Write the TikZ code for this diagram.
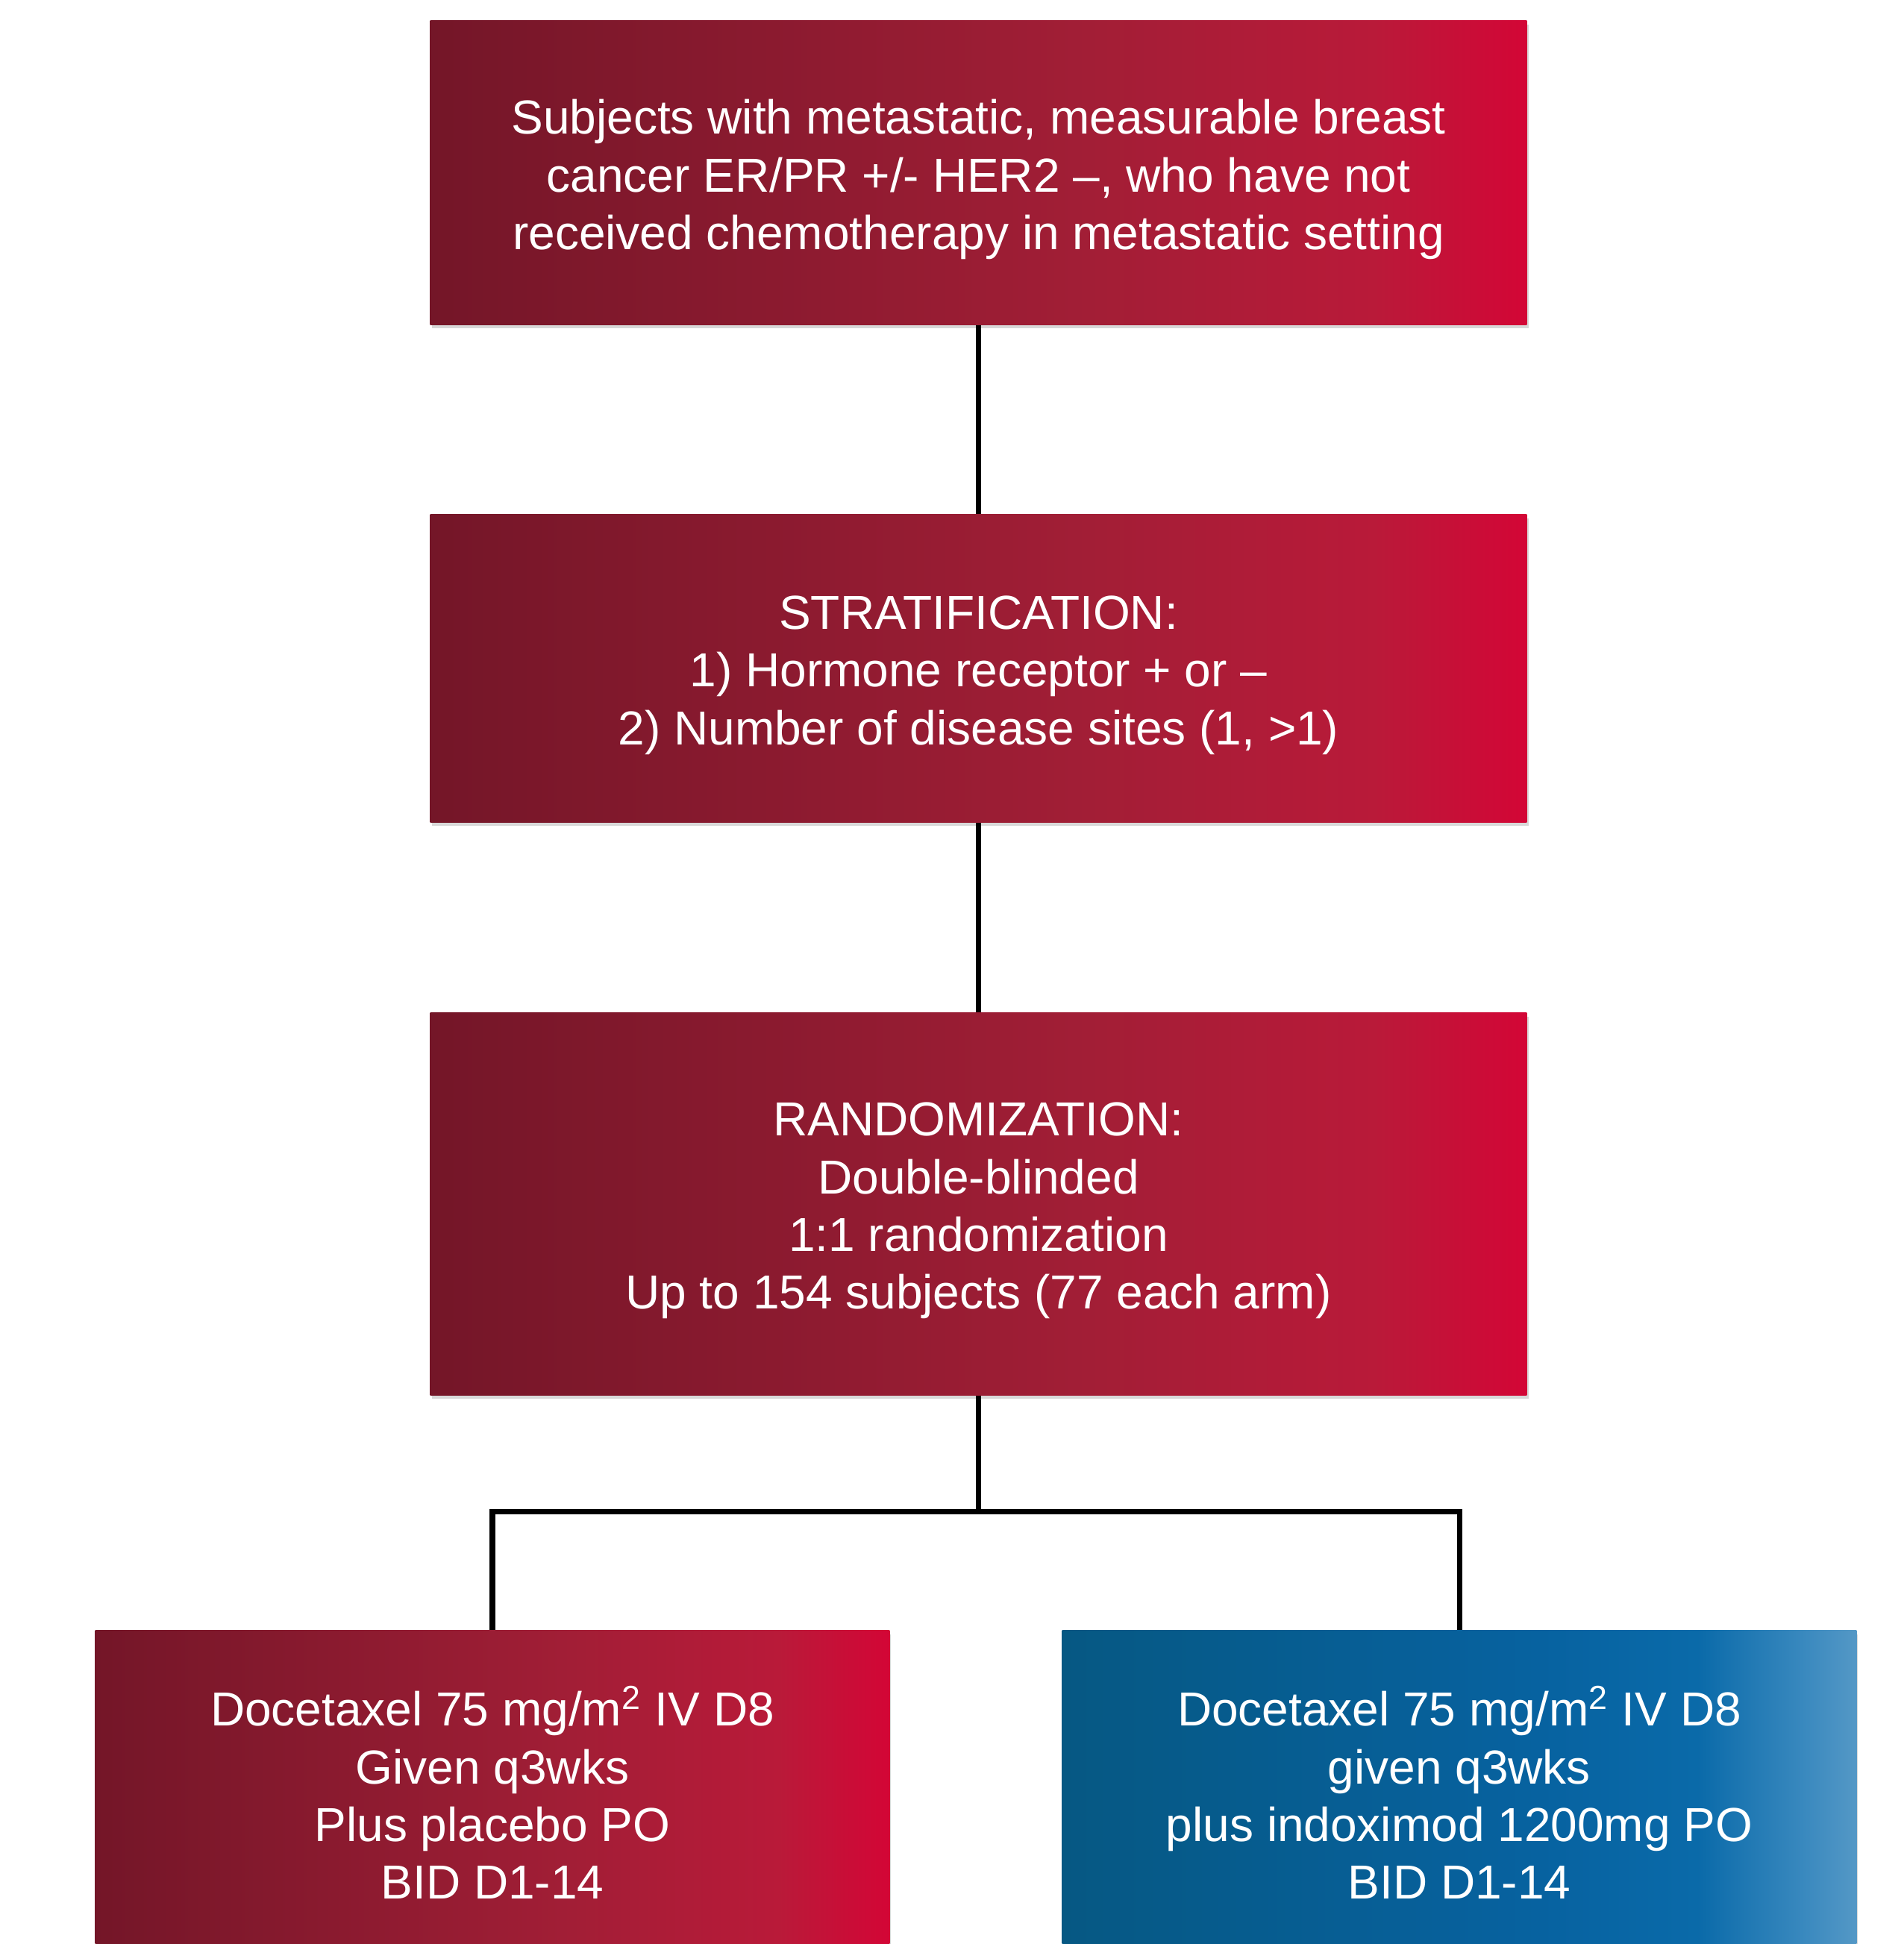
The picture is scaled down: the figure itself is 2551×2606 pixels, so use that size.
\documentclass[tikz,border=0pt]{standalone}
\usepackage{fontspec}
\setmainfont{Liberation Sans}
\usetikzlibrary{shadows}
\definecolor{redA}{HTML}{741628}
\definecolor{redB}{HTML}{8A1A2F}
\definecolor{redC}{HTML}{A21E36}
\definecolor{redD}{HTML}{B91A39}
\definecolor{redE}{HTML}{D30636}
\definecolor{blueA}{HTML}{065883}
\definecolor{blueB}{HTML}{0762A0}
\definecolor{blueC}{HTML}{0A6AA9}
\definecolor{blueD}{HTML}{3888BE}
\definecolor{blueE}{HTML}{5498C6}
\pgfdeclarehorizontalshading{redgrad}{100bp}{color(0bp)=(redA); color(25bp)=(redA); color(40bp)=(redB); color(55bp)=(redC); color(68bp)=(redD); color(75bp)=(redE); color(100bp)=(redE)}
\pgfdeclarehorizontalshading{bluegrad}{100bp}{color(0bp)=(blueA); color(25bp)=(blueA); color(55bp)=(blueB); color(65bp)=(blueC); color(71.5bp)=(blueD); color(75bp)=(blueE); color(100bp)=(blueE)}
\tikzset{
  box/.style={rectangle, inner sep=0pt,
    drop shadow={opacity=0.3, shadow xshift=0.6pt, shadow yshift=-1.5pt}},
  redbox/.style={box, shading=redgrad},
  bluebox/.style={box, shading=bluegrad},
  boxtext/.style={inner sep=0pt, text=white, align=center,
    font=\fontsize{18.2}{22}\selectfont},
  conn/.style={line width=2pt, black, line join=miter}
}
\begin{document}
\begin{tikzpicture}[x=0.01cm, y=-0.01cm]
\useasboundingbox (0,0) rectangle (2551,2606);
\clip (0,0) rectangle (2551,2606);
\fill[white] (0,0) rectangle (2551,2606);
\node[redbox, minimum width=14.69cm, minimum height=4.07cm] (b1) at (1311.5,231.5) {};
\node[boxtext] (t1) at ([yshift=-0.09cm]b1.center)
  {Subjects with metastatic, measurable breast\\cancer ER/PR +/- HER2 –, who have not\\received chemotherapy in metastatic setting};
\node[redbox, minimum width=14.69cm, minimum height=4.12cm] (b2) at (1311.5,896) {};
\node[boxtext] (t2) at ([yshift=-0.09cm]b2.center)
  {STRATIFICATION:\\1) Hormone receptor + or –\\2) Number of disease sites (1, >1)};
\node[redbox, minimum width=14.69cm, minimum height=5.12cm] (b3) at (1311.5,1614) {};
\node[boxtext] (t3) at ([yshift=-0.09cm]b3.center)
  {RANDOMIZATION:\\Double-blinded\\1:1 randomization\\Up to 154 subjects (77 each arm)};
\node[redbox, minimum width=10.64cm, minimum height=4.38cm] (b4) at (660,2405) {};
\node[boxtext] (t4) at ([yshift=0.02cm]b4.center)
  {Docetaxel 75 mg/m\textsuperscript{2} IV D8\\Given q3wks\\Plus placebo PO\\BID D1-14};
\node[bluebox, minimum width=10.64cm, minimum height=4.38cm] (b5) at (1956,2405) {};
\node[boxtext] (t5) at ([yshift=0.02cm]b5.center)
  {Docetaxel 75 mg/m\textsuperscript{2} IV D8\\given q3wks\\plus indoximod 1200mg PO\\BID D1-14};
\coordinate (split) at (1311.5,2026);
\draw[conn] (b1.south) -- (b2.north);
\draw[conn] (b2.south) -- (b3.north);
\draw[conn] (b3.south) -- (split);
\draw[conn] (b4.north) |- (split) -| (b5.north);
\end{tikzpicture}
\end{document}
